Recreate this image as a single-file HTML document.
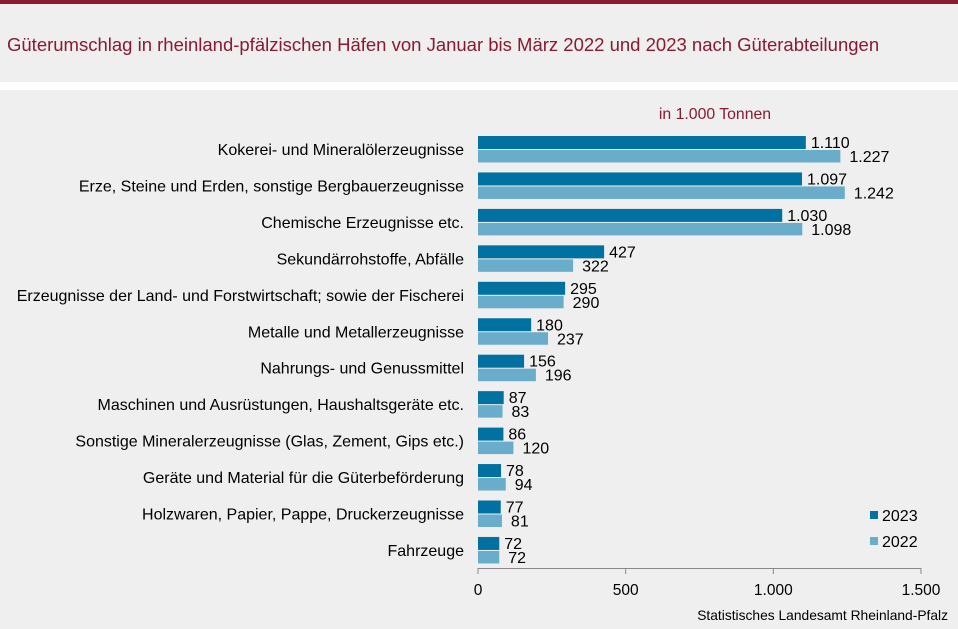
<!DOCTYPE html>
<html><head><meta charset="utf-8"><style>
body{margin:0;width:958px;height:629px;background:#eeefee;font-family:"Liberation Sans",sans-serif;overflow:hidden;position:relative}
#top{position:absolute;left:0;top:0;width:958px;height:4px;background:#8b1a30}
#title{position:absolute;left:7px;top:34px;font-size:18.5px;color:#8b1a30;white-space:nowrap}
#sep{position:absolute;left:0;top:82px;width:958px;height:8px;background:#fff}
svg{position:absolute;left:0;top:0}
text{font-family:"Liberation Sans",sans-serif}
</style></head><body>
<div id="top"></div>
<div id="title">Güterumschlag in rheinland-pfälzischen Häfen von Januar bis März 2022 und 2023 nach Güterabteilungen</div>
<div id="sep"></div>
<svg id="chart" width="958" height="629"></svg>
<script>
const categories=["Kokerei- und Mineralölerzeugnisse","Erze, Steine und Erden, sonstige Bergbauerzeugnisse","Chemische Erzeugnisse etc.","Sekundärrohstoffe, Abfälle","Erzeugnisse der Land- und Forstwirtschaft; sowie der Fischerei","Metalle und Metallerzeugnisse","Nahrungs- und Genussmittel","Maschinen und Ausrüstungen, Haushaltsgeräte etc.","Sonstige Mineralerzeugnisse (Glas, Zement, Gips etc.)","Geräte und Material für die Güterbeförderung","Holzwaren, Papier, Pappe, Druckerzeugnisse","Fahrzeuge"];
const values2023=[1110,1097,1030,427,295,180,156,87,86,78,77,72];
const values2022=[1227,1242,1098,322,290,237,196,83,120,94,81,72];
const ticks=[0,500,1000,1500];
const NS="http://www.w3.org/2000/svg";
const svg=document.getElementById('chart');
const x0=478,xmax=1500,xw=443;
const xs=v=>x0+v/xmax*xw;
const rowY=i=>136+i*36.45;
const fmt=v=>v.toLocaleString('de-DE');
function mk(t,a,txt){const e=document.createElementNS(NS,t);for(const k in a)e.setAttribute(k,a[k]);if(txt!==undefined)e.textContent=txt;svg.appendChild(e);return e;}
const u=mk('text',{x:715,y:119,'font-size':15.8,fill:'#8b1a30','text-anchor':'middle'},'in 1.000 Tonnen');


categories.forEach((c,i)=>{
  const y=rowY(i);
  const l=mk('text',{x:464,y:y+19,'font-size':16,fill:'#000','text-anchor':'end'},c);
  
  
  const b1=mk('rect',{x:x0,y:y,width:xs(values2023[i])-x0,height:13,fill:'#0071a1'});
  
  
  const b2=mk('rect',{x:x0,y:y+14,width:xs(values2022[i])-x0,height:12.5,fill:'#6aadcb'});
  
  
  const t1=mk('text',{x:xs(values2023[i])+5,y:y+12,'font-size':16,fill:'#000'},fmt(values2023[i]));
  
  
  const t2=mk('text',{x:xs(values2022[i])+9,y:y+26,'font-size':16,fill:'#000'},fmt(values2022[i]));
  
  
});
const ax=mk('line',{x1:x0,x2:xs(1500),y1:568.5,y2:568.5,stroke:'#888','stroke-width':1});


ticks.forEach(t=>{
  const tk=mk('line',{x1:xs(t),x2:xs(t),y1:568,y2:574,stroke:'#888'});
  
  
  const tl=mk('text',{x:xs(t),y:595,'font-size':15.5,fill:'#000','text-anchor':'middle'},fmt(t));
  
  
});
[['2023','#0071a1',511],['2022','#6aadcb',537]].forEach(([n,c,y])=>{
  const s=mk('rect',{x:870,y:y,width:8,height:8,fill:c});
  
  
  const t=mk('text',{x:882,y:y+10,'font-size':16,fill:'#000'},n);
  
  
});
const src=mk('text',{x:948,y:620,'font-size':13.8,fill:'#000','text-anchor':'end'},'Statistisches Landesamt Rheinland-Pfalz');


</script>
</body></html>
